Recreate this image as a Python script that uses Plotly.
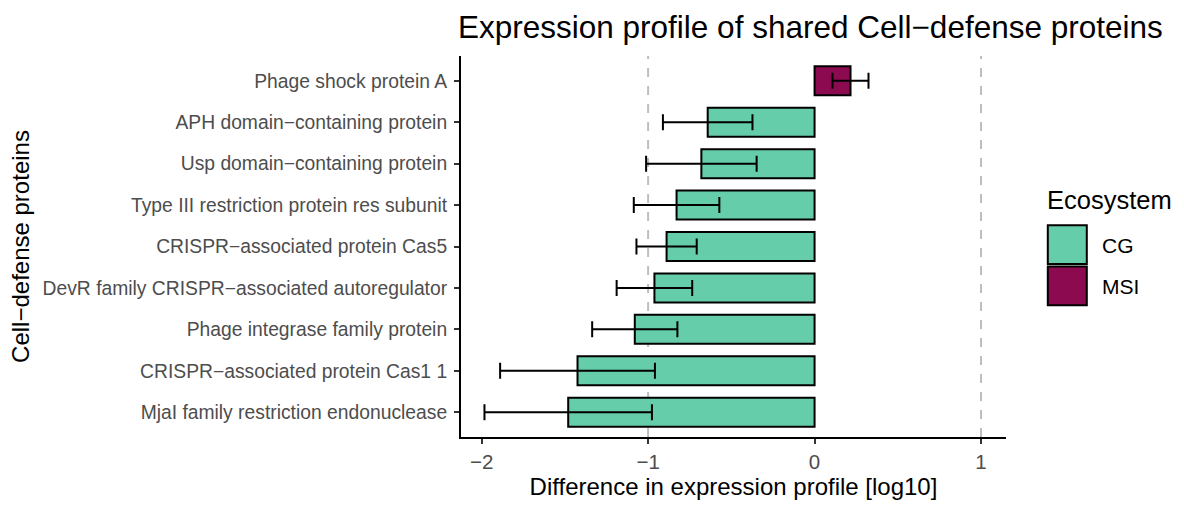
import plotly.graph_objects as go

# Cell-defense proteins, bottom to top
proteins = [
    "MjaI family restriction endonuclease",
    "CRISPR−associated protein Cas1 1",
    "Phage integrase family protein",
    "DevR family CRISPR−associated autoregulator",
    "CRISPR−associated protein Cas5",
    "Type III restriction protein res subunit",
    "Usp domain−containing protein",
    "APH domain−containing protein",
    "Phage shock protein A",
]
difference = [-1.48, -1.424, -1.08, -0.962, -0.889, -0.829, -0.68, -0.642, 0.216]
error = [0.503, 0.465, 0.256, 0.227, 0.181, 0.257, 0.332, 0.269, 0.108]
ecosystem = ["CG", "CG", "CG", "CG", "CG", "CG", "CG", "CG", "MSI"]

eco_colors = {"CG": "#66CDAA", "MSI": "#8B0A50"}
legend_items = ["CG", "MSI"]

FONT = "Liberation Sans, Arial, Helvetica, sans-serif"

# panel edges in pixels
PL, PR, PT, PB = 460.7, 1005.7, 55.7, 439.0
W = PR - PL
H = PB - PT


def px_x(p):
    return (p - PL) / W


def px_y(p):
    return (PB - p) / H


fig = go.Figure()

for eco in legend_items:
    idx = [i for i, e in enumerate(ecosystem) if e == eco]
    fig.add_trace(go.Bar(
        x=[difference[i] for i in idx],
        y=[proteins[i] for i in idx],
        orientation="h",
        width=0.7,
        name=eco,
        marker=dict(color=eco_colors[eco], line=dict(color="black", width=2)),
        error_x=dict(type="data", array=[error[i] for i in idx],
                     color="black", thickness=2, width=8),
        showlegend=False,
    ))

# dashed reference lines at -1 and 1
for xv in (-1, 1):
    fig.add_shape(type="line", xref="x", yref="paper", x0=xv, x1=xv, y0=0, y1=1,
                  line=dict(color="#BEBEBE", width=2, dash="dash"), layer="below")

# legend drawn as keys + labels
fig.add_annotation(text="Ecosystem", xref="paper", yref="paper", x=px_x(1045), y=px_y(201),
                   showarrow=False, xanchor="left", yanchor="middle",
                   font=dict(family=FONT, size=25.5, color="black"))
key_tops = [226, 267.5]
for eco, top in zip(legend_items, key_tops):
    fig.add_shape(type="rect", xref="paper", yref="paper",
                  x0=px_x(1047.5), x1=px_x(1086.5), y0=px_y(top + 39), y1=px_y(top),
                  fillcolor=eco_colors[eco], line=dict(color="black", width=2))
    fig.add_annotation(text=eco, xref="paper", yref="paper",
                       x=px_x(1100), y=px_y(top + 20), showarrow=False,
                       xanchor="left", yanchor="middle",
                       font=dict(family=FONT, size=21, color="black"))

fig.update_layout(
    width=1184, height=505,
    margin=dict(l=PL, r=1184 - PR, t=PT, b=505 - PB),
    paper_bgcolor="white", plot_bgcolor="white",
    title=dict(text="Expression profile of shared Cell−defense proteins",
               xref="container", x=458 / 1184, xanchor="left",
               yref="container", y=1 - 27 / 505, yanchor="middle",
               font=dict(family=FONT, size=31.5, color="black")),
    font=dict(family=FONT),
)

fig.update_xaxes(
    range=[-2.124, 1.15], tickvals=[-2, -1, 0, 1], showgrid=False, zeroline=False,
    showline=True, linecolor="black", linewidth=2, ticks="outside", ticklen=5,
    tickwidth=2, tickcolor="#333333",
    tickfont=dict(family=FONT, size=20.5, color="#4D4D4D"),
    title=dict(text="Difference in expression profile [log10]", standoff=4,
               font=dict(family=FONT, size=24, color="black")),
)
fig.update_yaxes(
    type="category", categoryorder="array", categoryarray=proteins,
    range=[-0.6, 8.6], showgrid=False, zeroline=False,
    showline=True, linecolor="black", linewidth=2, ticks="outside", ticklen=5,
    tickwidth=2, tickcolor="#333333", ticklabelstandoff=3,
    tickfont=dict(family=FONT, size=19.3, color="#4D4D4D"),
    title=dict(text="Cell−defense proteins", standoff=6,
               font=dict(family=FONT, size=24, color="black")),
)

fig.write_html("out.html")
